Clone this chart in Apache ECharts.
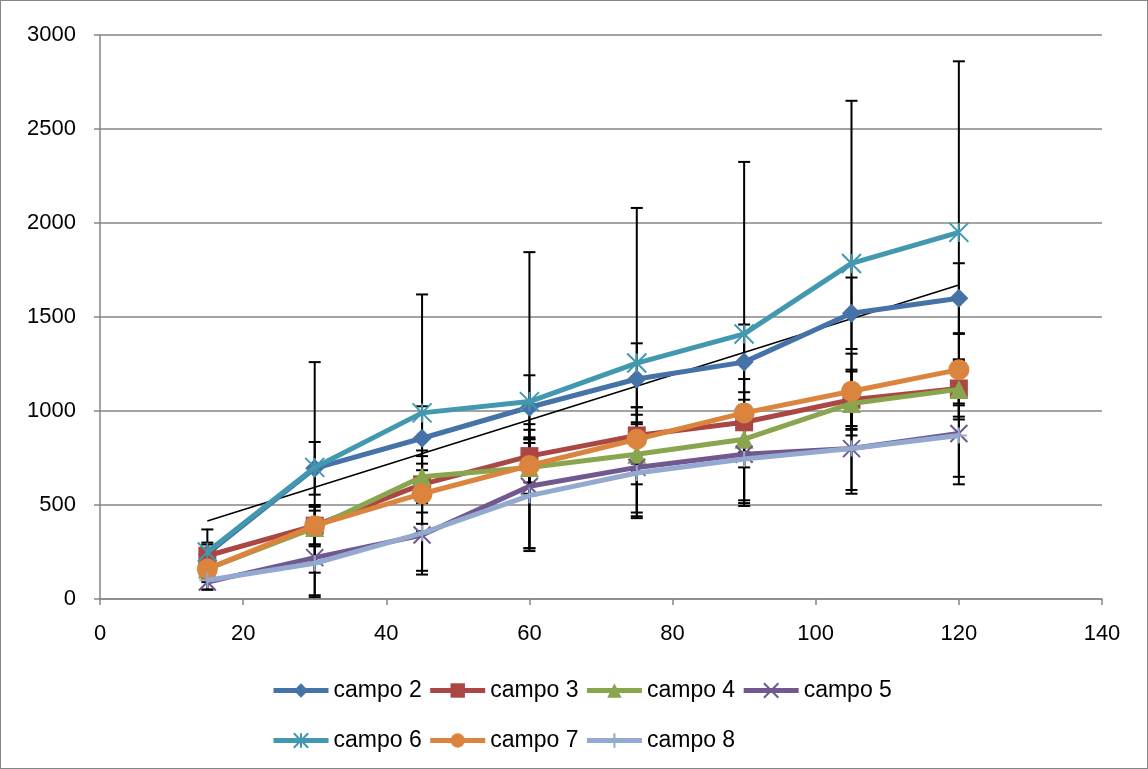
<!DOCTYPE html>
<html>
<head>
<meta charset="utf-8">
<script src="https://cdn.jsdelivr.net/npm/echarts@6/dist/echarts.min.js"></script>
<style>
html,body{margin:0;padding:0;background:#fff;}
#frame{width:1148px;height:769px;box-sizing:border-box;border:1px solid #868686;position:relative;}
#chart{position:absolute;left:-1px;top:-1px;width:1148px;height:769px;}
</style>
</head>
<body>
<div id="frame"><div id="chart"></div></div>
<script>
// ---- data ----
var xValues = [15, 30, 45, 60, 75, 90, 105, 120];
var seriesNames = ['campo 2', 'campo 3', 'campo 4', 'campo 5', 'campo 6', 'campo 7', 'campo 8'];
var campo2 = [240, 695, 855, 1020, 1170, 1260, 1520, 1600];
var campo3 = [230, 390, 610, 760, 870, 940, 1060, 1120];
var campo4 = [160, 380, 650, 700, 770, 850, 1040, 1115];
var campo5 = [90, 220, 340, 600, 700, 770, 800, 880];
var campo6 = [250, 700, 990, 1050, 1255, 1410, 1785, 1950];
var campo7 = [160, 390, 560, 710, 850, 990, 1105, 1220];
var campo8 = [100, 190, 350, 550, 670, 745, 800, 870];
// error bar half-widths (symmetric)
var err2 = [60, 140, 170, 170, 190, 200, 190, 186];
var err3 = [60, 100, 150, 140, 150, 160, 160, 150];
var err4 = [50, 90, 140, 150, 160, 150, 170, 160];
var err5 = [40, 200, 210, 330, 240, 260, 240, 270];
var err6 = [120, 560, 630, 795, 825, 915, 865, 910];
var err7 = [70, 110, 160, 150, 170, 180, 200, 190];
var err8 = [50, 180, 200, 280, 230, 220, 220, 220];
// linear trendline (endpoints)
var trendX = [15, 120];
var trendY = [415, 1670];
var xTicks = [0, 20, 40, 60, 80, 100, 120, 140];
var yTicks = [0, 500, 1000, 1500, 2000, 2500, 3000];

var values = [campo2, campo3, campo4, campo5, campo6, campo7, campo8];
var errors = [err2, err3, err4, err5, err6, err7, err8];
var colors = ['#4572A7', '#AA4643', '#89A54E', '#71588F', '#4198AF', '#DB843D', '#93A9CF'];
var symbols = [
  'diamond', 'rect', 'triangle',
  'path://M0,0L10,10M10,0L0,10',
  'path://M5,0L5,10M0,0L10,10M10,0L0,10',
  'circle',
  'path://M5,0L5,10M0,5L10,5'
];
var symbolSizes = [19, 18, 19, 17, 19, 21, 16];
var stroked = [false, false, false, true, true, false, true];

function errRender(params, api) {
  var x = api.value(0), lo = api.value(1), hi = api.value(2);
  var p1 = api.coord([x, lo]), p2 = api.coord([x, hi]);
  var w = 6;
  var st = {stroke: '#000', lineWidth: 2};
  return {type: 'group', children: [
    {type: 'line', shape: {x1: p1[0], y1: p1[1], x2: p2[0], y2: p2[1]}, style: st},
    {type: 'line', shape: {x1: p1[0] - w, y1: p1[1], x2: p1[0] + w, y2: p1[1]}, style: st},
    {type: 'line', shape: {x1: p2[0] - w, y1: p2[1], x2: p2[0] + w, y2: p2[1]}, style: st}
  ]};
}

var series = [];
values.forEach(function (vals, i) {
  series.push({
    type: 'custom',
    name: seriesNames[i] + ' err',
    renderItem: errRender,
    encode: {x: 0, y: [1, 2]},
    z: 1,
    silent: true,
    data: vals.map(function (v, k) { return [xValues[k], v - errors[i][k], v + errors[i][k]]; })
  });
});
series.push({
  type: 'line',
  name: 'trend',
  data: trendX.map(function (x, k) { return [x, trendY[k]]; }),
  symbol: 'none',
  lineStyle: {color: '#000', width: 1.5},
  z: 2,
  silent: true
});
values.forEach(function (vals, i) {
  var itemStyle = {color: colors[i]};
  if (stroked[i]) { itemStyle.borderColor = colors[i]; itemStyle.borderWidth = 2; }
  series.push({
    type: 'line',
    name: seriesNames[i],
    data: vals.map(function (v, k) { return [xValues[k], v]; }),
    symbol: symbols[i],
    symbolSize: symbolSizes[i],
    showAllSymbol: true,
    lineStyle: {color: colors[i], width: 5},
    itemStyle: itemStyle,
    z: 3 + i
  });
});

var chart = echarts.init(document.getElementById('chart'), null, {renderer: 'canvas'});
var fontFam = '"Liberation Sans", Arial, sans-serif';
function legendCfg(names, top) {
  return {data: names, left: 271, top: top, padding: 0, itemWidth: 55, itemHeight: 18, itemGap: 6,
    lineStyle: {width: 5},
    textStyle: {fontSize: 23, color: '#000', fontFamily: fontFam}};
}
chart.setOption({
  animation: false,
  backgroundColor: 'transparent',
  grid: {left: 100, right: 46, top: 35, bottom: 170, containLabel: false},
  legend: [legendCfg(seriesNames.slice(0, 4), 679), legendCfg(seriesNames.slice(4), 729)],
  xAxis: {
    type: 'value', min: xTicks[0], max: xTicks[xTicks.length - 1], interval: 20,
    axisLine: {lineStyle: {color: '#868686', width: 1.5}},
    axisTick: {show: true, length: 6, lineStyle: {color: '#868686', width: 1.5}},
    splitLine: {show: false},
    axisLabel: {fontSize: 22, color: '#000', fontFamily: fontFam, margin: 24}
  },
  yAxis: {
    type: 'value', min: yTicks[0], max: yTicks[yTicks.length - 1], interval: 500,
    axisLine: {show: true, lineStyle: {color: '#868686', width: 1.5}},
    axisTick: {show: true, length: 6, lineStyle: {color: '#868686', width: 1.5}},
    splitLine: {show: true, lineStyle: {color: '#868686', width: 1.5}},
    axisLabel: {fontSize: 22, color: '#000', fontFamily: fontFam, margin: 24,
      formatter: function (v) { return String(v); }}
  },
  series: series
});
</script>
</body>
</html>
